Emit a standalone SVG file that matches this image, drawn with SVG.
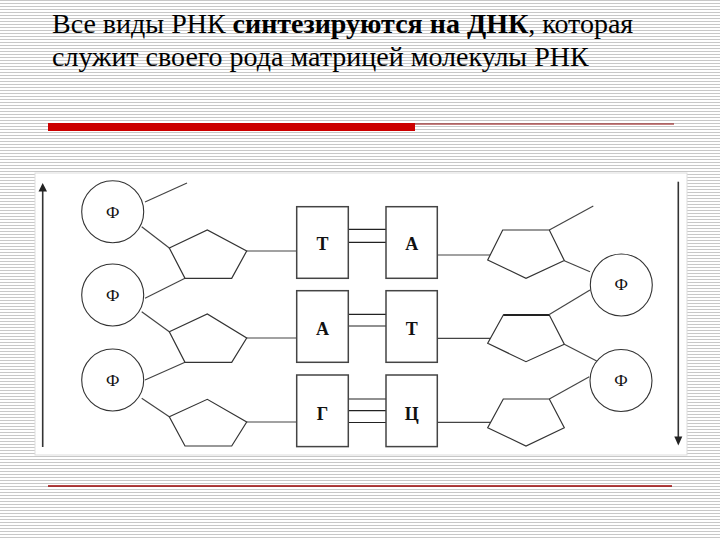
<svg xmlns="http://www.w3.org/2000/svg" width="720" height="540" viewBox="0 0 720 540">
<defs>
<pattern id="stripes" x="0" y="0" width="8" height="3" patternUnits="userSpaceOnUse">
<rect x="0" y="0" width="8" height="3" fill="#ffffff"/>
<rect x="0" y="0" width="8" height="1" fill="#c8c8c8"/>
</pattern>
<style>
.title{font-family:"Liberation Serif","Times New Roman",serif;font-size:28px;fill:#000}
.ln{stroke:#444;stroke-width:1.2;fill:none}
.hb{stroke:#222;stroke-width:1.2;fill:none}
.box{fill:#fff;stroke:#444;stroke-width:1.5}
.circ{fill:#fff;stroke:#333;stroke-width:1.1}
.pent{fill:#fff;stroke:#333;stroke-width:1.2}
.base{font-family:"Liberation Serif","Times New Roman",serif;font-size:18px;font-weight:bold;fill:#111;text-anchor:middle}
.phi{font-family:"Liberation Serif","Times New Roman",serif;font-size:17px;fill:#111;text-anchor:middle}
.arr{stroke:#333;stroke-width:1.6;fill:none}
</style>
</defs>
<rect x="0" y="0" width="720" height="540" fill="url(#stripes)"/>
<g id="title">
<text class="title" x="52" y="33">Все виды РНК <tspan font-weight="bold">синтезируются на ДНК</tspan>, которая</text>
<text class="title" x="52" y="66">служит своего рода матрицей молекулы РНК</text>
</g>
<g id="rules">
<rect x="48" y="123" width="367" height="8" fill="#cc0000"/>
<line x1="415" y1="124" x2="674" y2="124" stroke="#8b0000" stroke-width="1"/>
<line x1="48" y1="486" x2="672" y2="486" stroke="#990000" stroke-width="1.5"/>
</g>
<rect id="panel" x="35" y="173" width="652" height="282" fill="#ffffff" stroke="#dddddd" stroke-width="1"/>
<g id="connectors">
<line class="ln" x1="145" y1="202" x2="187" y2="183"/>
<line class="ln" x1="141.7" y1="226.7" x2="169.3" y2="248"/>
<line class="ln" x1="185" y1="278.3" x2="145" y2="298.3"/>
<line class="ln" x1="141.7" y1="311.7" x2="169.3" y2="331.7"/>
<line class="ln" x1="185" y1="362.3" x2="145" y2="380"/>
<line class="ln" x1="141.7" y1="398.3" x2="169.3" y2="416.7"/>
<line class="ln" x1="246.7" y1="251" x2="296.7" y2="251"/>
<line class="ln" x1="246.7" y1="338" x2="296.7" y2="338"/>
<line class="ln" x1="246.7" y1="422" x2="296.7" y2="422"/>
<line class="hb" x1="348.3" y1="229.3" x2="386" y2="229.3"/>
<line class="hb" x1="348.3" y1="242.3" x2="386" y2="242.3"/>
<line class="hb" x1="348.3" y1="314.3" x2="386" y2="314.3" stroke-width="2.4"/>
<line class="hb" x1="348.3" y1="326" x2="386" y2="326"/>
<line class="hb" x1="348.3" y1="399" x2="386" y2="399"/>
<line class="hb" x1="348.3" y1="410.7" x2="386" y2="410.7"/>
<line class="hb" x1="348.3" y1="422.5" x2="386" y2="422.5"/>
<line class="ln" x1="437.3" y1="255" x2="490.7" y2="255"/>
<line class="ln" x1="437.3" y1="338.3" x2="490.5" y2="338.3"/>
<line class="ln" x1="437.3" y1="422.3" x2="490.6" y2="422.3"/>
<line class="ln" x1="549.3" y1="230" x2="593.3" y2="206"/>
<line class="ln" x1="564.3" y1="260.7" x2="590" y2="271.7"/>
<line class="ln" x1="590" y1="290" x2="549.3" y2="314.5"/>
<line class="ln" x1="564.3" y1="344.3" x2="596.7" y2="361"/>
<line class="ln" x1="589.3" y1="376.7" x2="549.3" y2="399"/>
<line class="arr" x1="42.7" y1="447" x2="42.7" y2="190"/>
<polygon points="42.7,183 38.5,191.5 47,191.5" fill="#222"/>
<line class="arr" x1="678.3" y1="181.7" x2="678.3" y2="437"/>
<polygon points="674.3,436.5 682.3,436.5 678.3,445.5" fill="#222"/>
</g>
<g id="phosphate-L1"><circle class="circ" cx="112.7" cy="211.7" r="31"/><text class="phi" x="112.7" y="217.5">Ф</text></g>
<g id="phosphate-L2"><circle class="circ" cx="112.7" cy="295" r="31"/><text class="phi" x="112.7" y="300.8">Ф</text></g>
<g id="phosphate-L3"><circle class="circ" cx="112.7" cy="380" r="31"/><text class="phi" x="112.7" y="385.8">Ф</text></g>
<g id="sugar-L1"><polygon class="pent" points="169.3,248 207.3,230 246.7,251 231.7,278.3 185,278.3"/></g>
<g id="sugar-L2"><polygon class="pent" points="169.3,331.7 207.3,314 246.7,338 231.7,362.3 185,362.3"/></g>
<g id="sugar-L3"><polygon class="pent" points="169.3,416.7 207.3,399.3 246.7,422 231.7,446 185,446"/></g>
<g id="base-L1"><rect class="box" x="296.7" y="206.7" width="51.6" height="71.6"/><text class="base" x="322.5" y="250">Т</text></g>
<g id="base-L2"><rect class="box" x="296.7" y="290.7" width="51.6" height="71.6"/><text class="base" x="322.5" y="335">А</text></g>
<g id="base-L3"><rect class="box" x="296.7" y="375" width="51.6" height="71.6"/><text class="base" x="322.5" y="420">Г</text></g>
<g id="base-R1"><rect class="box" x="386" y="206.7" width="51.3" height="71.6"/><text class="base" x="411.7" y="250">А</text></g>
<g id="base-R2"><rect class="box" x="386" y="290.7" width="51.3" height="71.6"/><text class="base" x="411.7" y="335">Т</text></g>
<g id="base-R3"><rect class="box" x="386" y="375" width="51.3" height="71.6"/><text class="base" x="411.7" y="420">Ц</text></g>
<g id="sugar-R1"><polygon class="pent" points="502.7,230 549.3,230 564.3,260.5 526,278.3 487.7,260"/></g>
<g id="sugar-R2"><polygon class="pent" points="503.3,315 549.3,315 564.3,344.3 526,361.7 487.7,343.3"/><line x1="503.3" y1="315" x2="549.3" y2="315" stroke="#222" stroke-width="2.2"/></g>
<g id="sugar-R3"><polygon class="pent" points="503.3,399 549.3,399 564.3,427.7 526,446 487.7,427.7"/></g>
<g id="phosphate-R1"><circle class="circ" cx="621.3" cy="285" r="31"/><text class="phi" x="621.3" y="290.3">Ф</text></g>
<g id="phosphate-R2"><circle class="circ" cx="621" cy="380.5" r="31"/><text class="phi" x="621" y="386">Ф</text></g>
</svg>
